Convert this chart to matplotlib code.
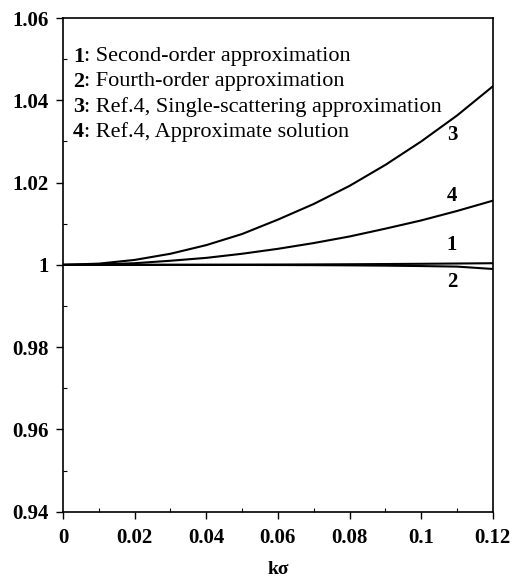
import numpy as np
import matplotlib
matplotlib.use("Agg")
from matplotlib import pyplot as plt
from matplotlib.ticker import MultipleLocator

plt.rcParams['font.family'] = ['Liberation Serif', 'DejaVu Serif']
plt.rcParams['font.weight'] = 'bold'

# values
ksigma = [0, 0.01, 0.02, 0.03, 0.04, 0.05, 0.06, 0.07, 0.08, 0.09, 0.10, 0.11, 0.12]
second_order = [1, 1, 1.00001, 1.00002, 1.00003, 1.00005, 1.00008, 1.00011, 1.00015, 1.0002, 1.00026, 1.00033, 1.0004]
fourth_order = [1, 1, 1, 1, 0.99999, 0.99998, 0.99996, 0.99993, 0.99988, 0.99981, 0.99971, 0.99958, 0.9990]
single_scat = [1, 1.0003, 1.0012, 1.0027, 1.0048, 1.0075, 1.0110, 1.0148, 1.0192, 1.0243, 1.0300, 1.0363, 1.0434]
approx_sol = [1, 1.0001, 1.0004, 1.0010, 1.0017, 1.0027, 1.0039, 1.0053, 1.0069, 1.0088, 1.0108, 1.0131, 1.0156]

legend_lines = ["Second-order approximation",
                "Fourth-order approximation",
                "Ref.4, Single-scattering approximation",
                "Ref.4, Approximate solution"]

fig = plt.figure(figsize=(5.15, 5.79), dpi=100)
ax = fig.add_axes([0.1223, 0.1162, 0.957 - 0.1223, 0.9689 - 0.1162])

for ys in (second_order, fourth_order, single_scat, approx_sol):
    ax.plot(ksigma, ys, color='black', lw=1.5)

ax.set_xlim(0, 0.12)
ax.set_ylim(0.94, 1.06)
ax.set_xticks([0, 0.02, 0.04, 0.06, 0.08, 0.1, 0.12])
ax.set_xticklabels(['0', '0.02', '0.04', '0.06', '0.08', '0.1', '0.12'])
ax.set_yticks([0.94, 0.96, 0.98, 1.0, 1.02, 1.04, 1.06])
ax.set_yticklabels(['0.94', '0.96', '0.98', '1', '1.02', '1.04', '1.06'])
ax.xaxis.set_minor_locator(MultipleLocator(0.01))
ax.yaxis.set_minor_locator(MultipleLocator(0.01))
ax.tick_params(which='major', direction='out', length=5, width=1, labelsize=15, pad=7)
ax.tick_params(axis='y', which='major', pad=5)
ax.tick_params(which='minor', direction='in', length=3, width=0.8)
for s in ax.spines.values():
    s.set_linewidth(1.2)

ax.set_xlabel('kσ', fontsize=14, fontweight='bold', labelpad=9)

# legend block: bold number, regular text
for i, txt in enumerate(legend_lines):
    y = 1.0506 - i * 0.00608
    t = ax.text(0.0028, y, f"{i + 1}", fontsize=16, fontweight='bold',
                va='center', ha='left')
    ax.annotate(f": {txt}", xycoords=t, xy=(1, 0.5), va='center', ha='left',
                fontsize=16, fontweight='normal')

# curve labels
ax.text(0.1086, 1.0316, '3', fontsize=15, fontweight='bold', ha='center', va='center')
ax.text(0.1086, 1.0168, '4', fontsize=15, fontweight='bold', ha='center', va='center')
ax.text(0.1086, 1.0049, '1', fontsize=15, fontweight='bold', ha='center', va='center')
ax.text(0.1086, 0.9959, '2', fontsize=15, fontweight='bold', ha='center', va='center')

fig.savefig('out.png', dpi=100)
